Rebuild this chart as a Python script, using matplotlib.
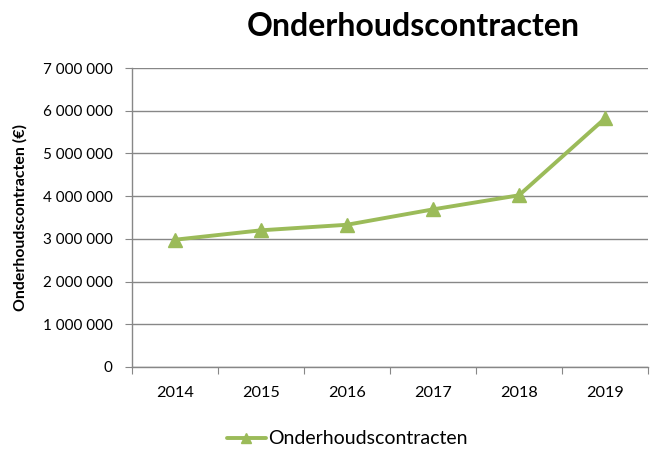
import matplotlib
matplotlib.use("Agg")
import matplotlib.pyplot as plt
import numpy as np
from matplotlib.ticker import FuncFormatter

years = ["2014", "2015", "2016", "2017", "2018", "2019"]
contracts = [2980000, 3200000, 3330000, 3690000, 4020000, 5820000]
series_name = "Onderhoudscontracten"
title = "Onderhoudscontracten"
ylabel = "Onderhoudscontracten (€)"

plt.rcParams["font.family"] = ["Lato", "DejaVu Sans"]

green = "#9BBB59"
grid_col = "#878787"

fig = plt.figure(figsize=(6.53, 4.51), dpi=100)
ax = fig.add_axes([132 / 653, 84 / 451, 516 / 653, 299 / 451])

x = np.arange(len(years))
ax.plot(x, contracts, color=green, lw=2.8, marker="^", markersize=10,
        markeredgecolor=green, label=series_name, solid_capstyle="round")

ax.set_xlim(-0.5, len(years) - 0.5)
ax.set_ylim(0, 7000000)
ax.set_yticks(np.arange(0, 7000001, 1000000))
ax.yaxis.set_major_formatter(FuncFormatter(lambda v, p: f"{int(v):,}".replace(",", " ")))
ax.yaxis.grid(True, color=grid_col, lw=1)
ax.set_axisbelow(True)

# category boundaries get the ticks, labels sit in between
ax.set_xticks(np.arange(-0.5, len(years), 1.0))
ax.set_xticklabels([])
ax.set_xticks(x, minor=True)
ax.set_xticklabels(years, minor=True)
ax.tick_params(axis="x", which="minor", length=0, pad=14, labelsize=11.7)
ax.tick_params(axis="x", which="major", length=5, color=grid_col)
ax.tick_params(axis="y", length=5, color=grid_col, labelsize=11, pad=9)

for s in ["top", "right"]:
    ax.spines[s].set_visible(False)
for s in ["left", "bottom"]:
    ax.spines[s].set_color(grid_col)
    ax.spines[s].set_linewidth(1)

ax.set_ylabel(ylabel, fontsize=11.4, fontweight="bold")
ax.yaxis.set_label_coords((28 - 132) / 516, 0.5)
fig.text(413 / 653, 1 - 26 / 451, title, ha="center", va="center",
         fontsize=23, fontweight="bold")

fig.legend(loc="center", bbox_to_anchor=(347 / 653, 1 - 439 / 451), frameon=False,
           fontsize=14, handlelength=2.0, handletextpad=0.1, markerscale=0.75)

fig.savefig("out.png", dpi=100)
